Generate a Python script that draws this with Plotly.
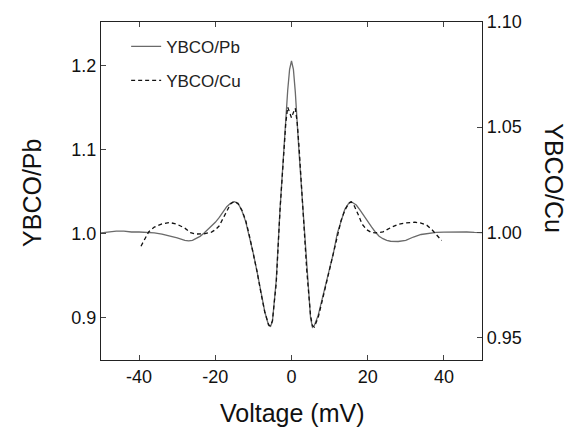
import plotly.graph_objects as go

# YBCO/Pb (left axis)
pb_v = [-50, -48, -46, -44, -42, -40, -38, -36, -34, -32, -30, -28, -27, -26, -25, -24, -23, -22, -21, -20,
        -19, -18, -17, -16, -15, -14, -13, -12, -11, -10, -9, -8, -7, -6, -5.5, -5, -4, -3, -2, -1, -0.5,
        0, 0.5, 1, 2, 3, 4, 5, 5.5, 6, 7, 8, 9, 10, 11, 12, 13, 14, 15, 15.5, 16, 17, 18, 19, 20, 21, 22,
        23, 24, 25, 26, 27, 28, 30, 32, 34, 36, 38, 40, 42, 44, 46, 48, 50]
pb_g = [1.001, 1.002, 1.003, 1.003, 1.002, 1.002, 1.0015, 1.001, 0.9995, 0.9977, 0.995, 0.992, 0.9915,
        0.992, 0.994, 0.9968, 1.0005, 1.0045, 1.009, 1.0135, 1.019, 1.026, 1.032, 1.036, 1.038, 1.036,
        1.027, 1.014, 0.996, 0.976, 0.954, 0.929, 0.907, 0.891, 0.890, 0.896, 0.945, 1.03, 1.105, 1.170,
        1.195, 1.205, 1.195, 1.168, 1.095, 1.03, 0.965, 0.900, 0.889, 0.891, 0.903, 0.921, 0.940, 0.958,
        0.977, 1.000, 1.015, 1.029, 1.036, 1.038, 1.037, 1.034, 1.028, 1.021, 1.014, 1.008, 1.002, 0.997,
        0.994, 0.992, 0.991, 0.9905, 0.9907, 0.992, 0.996, 0.999, 1.0005, 1.0015, 1.0018, 1.002, 1.0025,
        1.002, 1.0015, 1.0012]

# YBCO/Cu (right axis)
cu_v = [-39.5, -38.5, -37.5, -36, -34, -32, -30, -28, -26.5, -25, -23, -21, -20, -19, -18, -17, -16, -15,
        -14, -13, -12, -11, -10, -9, -8, -7, -6, -5.5, -5, -4, -3, -2, -1.5, -1, -0.5, 0, 0.5, 1, 1.5, 2,
        3, 4, 5, 5.5, 6, 7, 8, 9, 10, 11, 12, 13, 14, 15, 15.7, 16.5, 17.5, 18.5, 19.7, 21, 22, 24, 26, 28,
        30, 32.4, 34, 35.5, 37, 38.5, 39.4]
cu_g = [0.9934, 0.997, 1.0002, 1.0025, 1.004, 1.0047, 1.0038, 1.002, 0.9998, 0.9992, 0.9993, 1.0001,
        1.0012, 1.003, 1.0065, 1.010, 1.0135, 1.0148, 1.0135, 1.0105, 1.0055, 0.998, 0.990, 0.981, 0.971,
        0.962, 0.956, 0.9555, 0.958, 0.976, 1.011, 1.040, 1.052, 1.0595, 1.057, 1.0545, 1.057, 1.059,
        1.052, 1.040, 1.011, 0.982, 0.9605, 0.9555, 0.955, 0.9595, 0.967, 0.975, 0.983, 0.991, 0.9985,
        1.0055, 1.0105, 1.0138, 1.0145, 1.0125, 1.0085, 1.004, 1.0013, 0.9999, 0.9997, 1.0002, 1.0022,
        1.0038, 1.0045, 1.0048, 1.0044, 1.0034, 1.001, 0.998, 0.9961]

x_ticks = [-40, -20, 0, 20, 40]
x_labels = ["-40", "-20", "0", "20", "40"]
left_ticks = [0.9, 1.0, 1.1, 1.2]
left_labels = ["0.9", "1.0", "1.1", "1.2"]
right_ticks = [0.95, 1.00, 1.05, 1.10]
right_labels = ["0.95", "1.00", "1.05", "1.10"]

FONT = "Liberation Sans, Arial, sans-serif"

fig = go.Figure()
fig.add_trace(go.Scatter(x=pb_v, y=pb_g, mode="lines", name="YBCO/Pb", legendgroup="a",
                         line=dict(color="#6a6a6a", width=1.3)))
fig.add_trace(go.Scatter(x=cu_v, y=cu_g, mode="lines", name="YBCO/Cu", legendgroup="b", yaxis="y2",
                         line=dict(color="#111111", width=1.3, dash="4px,3px")))

fig.update_layout(
    width=574, height=432,
    margin=dict(l=101, r=92, t=16, b=72),
    paper_bgcolor="white", plot_bgcolor="white",
    font=dict(family=FONT, color="#111111", size=18),
    showlegend=True,
    legend=dict(x=0.066, y=0.98, xanchor="left", yanchor="top", bgcolor="rgba(0,0,0,0)",
                font=dict(size=17, color="#222222"), tracegroupgap=9, itemwidth=30),
    xaxis=dict(range=[-50, 50], tickvals=x_ticks, ticktext=x_labels, ticks="inside", ticklen=5,
               tickwidth=1.3, showline=True, linecolor="#222222", linewidth=1.3, mirror="ticks",
               showgrid=False, zeroline=False, tickfont=dict(size=18)),
    yaxis=dict(range=[0.85, 1.2513], tickvals=left_ticks, ticktext=left_labels, ticks="inside",
               ticklen=5, tickwidth=1.3, showline=True, linecolor="#222222", linewidth=1.3,
               showgrid=False, zeroline=False, tickfont=dict(size=18)),
    yaxis2=dict(range=[0.9393, 1.10], tickvals=right_ticks, ticktext=right_labels, ticks="inside",
                ticklen=5, tickwidth=1.3, showline=True, linecolor="#222222", linewidth=1.3,
                overlaying="y", side="right", showgrid=False, zeroline=False, tickfont=dict(size=18)),
)

# axis titles placed by pixel position (converted to paper coords)
pw, ph = 574 - 101 - 92, 432 - 16 - 72
def px(xp): return (xp - 101) / pw
def py(yp): return (432 - 72 - yp) / ph

fig.update_layout(annotations=[
    dict(text="Voltage (mV)", x=px(292), y=py(414), xref="paper", yref="paper", showarrow=False,
         xanchor="center", yanchor="middle", font=dict(size=25)),
    dict(text="YBCO/Pb", x=px(32), y=py(190), xref="paper", yref="paper", showarrow=False,
         textangle=-90, xanchor="center", yanchor="middle", font=dict(size=25)),
    dict(text="YBCO/Cu", x=px(554), y=py(175), xref="paper", yref="paper", showarrow=False,
         textangle=90, xanchor="center", yanchor="middle", font=dict(size=25)),
])

fig.write_html("out.html")
